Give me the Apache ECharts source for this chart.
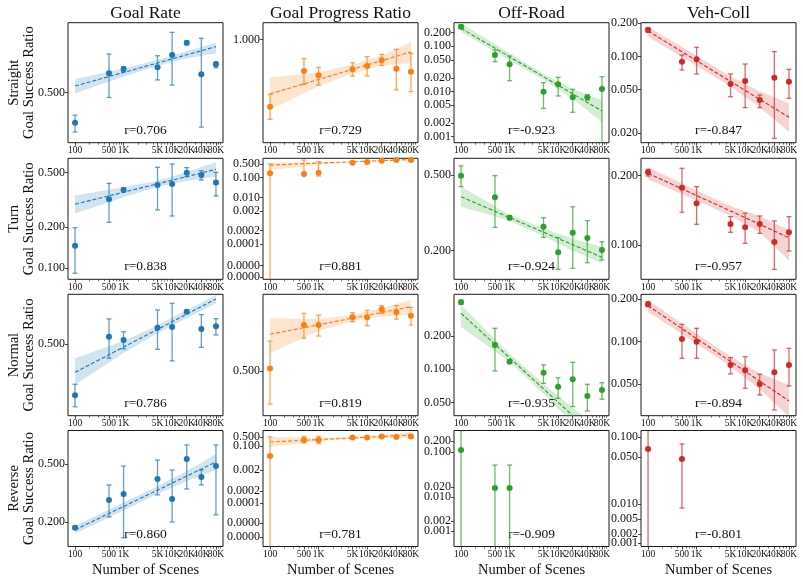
<!DOCTYPE html>
<html><head><meta charset="utf-8">
<script src="https://cdn.jsdelivr.net/npm/echarts@6/dist/echarts.min.js"></script>
<style>html,body{margin:0;padding:0;background:#fff}#c{width:803px;height:582px}</style>
</head><body><div id="c"></div>
<script>
// ---------------- DATA ----------------
const scenes = [100, 500, 1000, 5000, 10000, 20000, 40000, 80000];
const sceneLabels = ['100', '500', '1K', '5K', '10K', '20K', '40K', '80K'];
const xMinorTicks = [200,300,400,600,700,800,900,2000,3000,4000,6000,7000,8000,9000,30000,50000,60000,70000,90000,100000];
const xRange = [71.6, 111700];
const fitX = [100, 80000];
const bandX = [100, 1000, 5000, 20000, 80000];
const metrics = ['Goal Rate', 'Goal Progress Ratio', 'Off-Road', 'Veh-Coll'];
const scenarios = ['Straight', 'Turn', 'Normal', 'Reverse'];
const rValues = [[0.706, 0.729, -0.923, -0.847], [0.838, 0.881, -0.924, -0.957], [0.786, 0.819, -0.935, -0.894], [0.860, 0.781, -0.909, -0.801]];

// Straight
const straightGoalMean = [0.396, 0.579, 0.598, 0.606, 0.666, 0.732, 0.575, 0.620];
const straightGoalLow = [0.369, 0.481, 0.586, 0.550, 0.529, 0.720, 0.383, 0.604];
const straightGoalHigh = [0.420, 0.671, 0.609, 0.662, 0.792, 0.740, 0.757, 0.632];
const straightGoalFit = [0.525, 0.710];
const straightGoalBandLow = [0.496, 0.565, 0.612, 0.649, 0.674];
const straightGoalBandHigh = [0.554, 0.600, 0.641, 0.685, 0.732];
const straightGoalYRange = [0.340, 0.853];
const straightGoalTicks = [0.5];
const straightGoalTickLabels = ['0.500'];

const straightProgressMean = [0.708, 0.850, 0.832, 0.858, 0.872, 0.899, 0.860, 0.847];
const straightProgressLow = [0.664, 0.794, 0.791, 0.829, 0.829, 0.875, 0.772, 0.765];
const straightProgressHigh = [0.755, 0.906, 0.866, 0.887, 0.915, 0.926, 0.950, 0.931];
const straightProgressFit = [0.756, 0.938];
const straightProgressBandLow = [0.696, 0.786, 0.839, 0.875, 0.886];
const straightProgressBandHigh = [0.822, 0.844, 0.878, 0.921, 0.986];
const straightProgressYRange = [0.589, 1.089];
const straightProgressTicks = [1.0];
const straightProgressTickLabels = ['1.000'];

const straightOffRoadMean = [0.271, 0.0642, 0.040, 0.0099, 0.01443, 0.00745, 0.00745, 0.01136];
const straightOffRoadLow = [0.245, 0.0456, 0.0173, 0.00425, 0.00796, 0.00347, 0.00649, 0];
const straightOffRoadHigh = [0.296, 0.0828, 0.061, 0.0157, 0.0206, 0.0112, 0.00837, 0.02126];
const straightOffRoadFit = [0.250, 0.00371];
const straightOffRoadBandLow = [0.210, 0.049, 0.0182, 0.00687, 0.00211];
const straightOffRoadBandHigh = [0.323, 0.070, 0.0247, 0.01143, 0.00649];
const straightOffRoadYRange = [0.000737, 0.3328];
const straightOffRoadTicks = [0.001, 0.002, 0.005, 0.01, 0.02, 0.05, 0.1, 0.2];
const straightOffRoadTickLabels = ['0.001', '0.002', '0.005', '0.010', '0.020', '0.050', '0.100', '0.200'];

const straightVehCollMean = [0.1738, 0.0895, 0.0941, 0.0561, 0.0598, 0.0402, 0.064, 0.0589];
const straightVehCollLow = [0.1656, 0.0752, 0.0692, 0.043, 0.0342, 0.0342, 0.018, 0.0416];
const straightVehCollHigh = [0.1824, 0.103, 0.121, 0.0692, 0.0853, 0.0446, 0.1104, 0.0763];
const straightVehCollFit = [0.1702, 0.028];
const straightVehCollBandLow = [0.151, 0.0822, 0.0532, 0.0344, 0.0207];
const straightVehCollBandHigh = [0.1862, 0.1014, 0.0656, 0.048, 0.0375];
const straightVehCollYRange = [0.01642, 0.2025];
const straightVehCollTicks = [0.02, 0.05, 0.1, 0.2];
const straightVehCollTickLabels = ['0.020', '0.050', '0.100', '0.200'];

// Turn
const turnGoalMean = [0.146, 0.320, 0.373, 0.407, 0.413, 0.500, 0.481, 0.423];
const turnGoalLow = [0.092, 0.217, 0.363, 0.267, 0.241, 0.467, 0.442, 0.338];
const turnGoalHigh = [0.198, 0.418, 0.388, 0.548, 0.579, 0.544, 0.517, 0.503];
const turnGoalFit = [0.294, 0.529];
const turnGoalBandLow = [0.252, 0.331, 0.394, 0.435, 0.467];
const turnGoalBandHigh = [0.340, 0.392, 0.436, 0.505, 0.596];
const turnGoalYRange = [0.0831, 0.637];
const turnGoalTicks = [0.1, 0.2, 0.5];
const turnGoalTickLabels = ['0.100', '0.200', '0.500'];

const turnProgressMean = [0.168, 0.155, 0.180, 0.582, 0.633, 0.736, 0.80, 0.80];
const turnProgressLow = [0, 0.138, 0.122, 0.543, 0.582, 0.69, 0.736, 0.736];
const turnProgressHigh = [0.5, 0.80, 0.655, 0.633, 0.711, 0.80, 0.87, 0.87];
const turnProgressFit = [0.445, 0.847];
const turnProgressBandLow = [0.247, 0.45, 0.60, 0.70, 0.75];
const turnProgressBandHigh = [0.56, 0.62, 0.68, 0.78, 0.95];
const turnProgressYRange = [6.7e-7, 0.976];
const turnProgressTicks = [8.45e-7, 3.3e-6, 4.2e-5, 0.0002, 0.002, 0.01, 0.1, 0.5];
const turnProgressTickLabels = ['0.0000', '0.0000', '0.0001', '0.0002', '0.002', '0.010', '0.100', '0.500'];

const turnOffRoadMean = [0.496, 0.3816, 0.298, 0.267, 0.196, 0.2485, 0.2331, 0.2015];
const turnOffRoadLow = [0.434, 0.2652, 0.291, 0.235, 0.1595, 0.1614, 0.1727, 0.1785];
const turnOffRoadHigh = [0.558, 0.496, 0.305, 0.298, 0.234, 0.3404, 0.2874, 0.2228];
const turnOffRoadFit = [0.3844, 0.1844];
const turnOffRoadBandLow = [0.3404, 0.2877, 0.2381, 0.1997, 0.1715];
const turnOffRoadBandHigh = [0.434, 0.3095, 0.2624, 0.2310, 0.2097];
const turnOffRoadYRange = [0.1413, 0.612];
const turnOffRoadTicks = [0.2, 0.5];
const turnOffRoadTickLabels = ['0.200', '0.500'];

const turnVehCollMean = [0.2069, 0.1773, 0.1517, 0.1233, 0.1193, 0.1233, 0.103, 0.1135];
const turnVehCollLow = [0.1993, 0.1387, 0.1229, 0.1135, 0.1016, 0.1123, 0.0783, 0.0941];
const turnVehCollHigh = [0.2132, 0.2153, 0.1791, 0.1327, 0.1373, 0.1336, 0.1271, 0.1327];
const turnVehCollFit = [0.2048, 0.1075];
const turnVehCollBandLow = [0.1929, 0.156, 0.1336, 0.1134, 0.0854];
const turnVehCollBandHigh = [0.2175, 0.1724, 0.1477, 0.1331, 0.1161];
const turnVehCollYRange = [0.0709, 0.2379];
const turnVehCollTicks = [0.1, 0.2];
const turnVehCollTickLabels = ['0.100', '0.200'];

// Normal
const normalGoalMean = [0.313, 0.536, 0.520, 0.582, 0.586, 0.675, 0.576, 0.590];
const normalGoalLow = [0.281, 0.440, 0.479, 0.477, 0.429, 0.665, 0.486, 0.545];
const normalGoalHigh = [0.346, 0.631, 0.561, 0.686, 0.729, 0.684, 0.657, 0.633];
const normalGoalFit = [0.386, 0.759];
const normalGoalBandLow = [0.344, 0.461, 0.553, 0.636, 0.729];
const normalGoalBandHigh = [0.440, 0.515, 0.595, 0.685, 0.787];
const normalGoalYRange = [0.259, 0.792];
const normalGoalTicks = [0.5];
const normalGoalTickLabels = ['0.500'];

const normalProgressMean = [0.510, 0.712, 0.712, 0.755, 0.755, 0.803, 0.785, 0.764];
const normalProgressLow = [0.388, 0.643, 0.654, 0.730, 0.708, 0.778, 0.744, 0.712];
const normalProgressHigh = [0.629, 0.778, 0.768, 0.782, 0.797, 0.826, 0.826, 0.815];
const normalProgressFit = [0.663, 0.819];
const normalProgressBandLow = [0.573, 0.681, 0.733, 0.760, 0.768];
const normalProgressBandHigh = [0.750, 0.746, 0.768, 0.809, 0.862];
const normalProgressYRange = [0.355, 0.901];
const normalProgressTicks = [0.5];
const normalProgressTickLabels = ['0.500'];

const normalOffRoadMean = [0.403, 0.1658, 0.1172, 0.0932, 0.0697, 0.0813, 0.0574, 0.065];
const normalOffRoadLow = [0.387, 0.0966, 0.1133, 0.0747, 0.0547, 0.046, 0.042, 0.0536];
const normalOffRoadHigh = [0.423, 0.2348, 0.1214, 0.1094, 0.084, 0.1157, 0.0732, 0.0757];
const normalOffRoadFit = [0.3207, 0.02187];
const normalOffRoadBandLow = [0.2427, 0.1169, 0.060, 0.0323, 0.017];
const normalOffRoadBandHigh = [0.381, 0.138, 0.0738, 0.045, 0.0281];
const normalOffRoadYRange = [0.0381, 0.476];
const normalOffRoadTicks = [0.05, 0.1, 0.2];
const normalOffRoadTickLabels = ['0.050', '0.100', '0.200'];

const normalVehCollMean = [0.1834, 0.1041, 0.0997, 0.0682, 0.0625, 0.050, 0.0605, 0.0682];
const normalVehCollLow = [0.1764, 0.076, 0.076, 0.0589, 0.0466, 0.0418, 0.0327, 0.0484];
const normalVehCollHigh = [0.1914, 0.1323, 0.124, 0.0768, 0.078, 0.0586, 0.0871, 0.0895];
const normalVehCollFit = [0.1793, 0.0379];
const normalVehCollBandLow = [0.1626, 0.0967, 0.0665, 0.0459, 0.0292];
const normalVehCollBandHigh = [0.1967, 0.1138, 0.0783, 0.0595, 0.0492];
const normalVehCollYRange = [0.0298, 0.2159];
const normalVehCollTicks = [0.05, 0.1, 0.2];
const normalVehCollTickLabels = ['0.050', '0.100', '0.200'];

// Reverse
const reverseGoalMean = [0.183, 0.283, 0.311, 0.395, 0.288, 0.541, 0.407, 0.484];
const reverseGoalLow = [0.179, 0.217, 0.156, 0.307, 0.200, 0.337, 0.359, 0.224];
const reverseGoalHigh = [0.187, 0.359, 0.484, 0.532, 0.455, 0.675, 0.455, 0.675];
const reverseGoalFit = [0.177, 0.516];
const reverseGoalBandLow = [0.166, 0.240, 0.311, 0.382, 0.455];
const reverseGoalBandHigh = [0.188, 0.272, 0.352, 0.447, 0.585];
const reverseGoalYRange = [0.136, 0.848];
const reverseGoalTicks = [0.2, 0.5];
const reverseGoalTickLabels = ['0.200', '0.500'];

const reverseProgressMean = [0.0168, 0.292, 0.292, 0.45, 0.45, 0.55, 0.50, 0.55];
const reverseProgressLow = [0, 0.171, 0.15, 0.40, 0.40, 0.48, 0.45, 0.48];
const reverseProgressHigh = [0.5, 0.55, 0.58, 0.52, 0.52, 0.65, 0.58, 0.62];
const reverseProgressFit = [0.205, 0.714];
const reverseProgressBandLow = [0.083, 0.24, 0.356, 0.42, 0.42];
const reverseProgressBandHigh = [0.5, 0.41, 0.51, 0.72, 1.2];
const reverseProgressYRange = [1.63e-9, 1.596];
const reverseProgressTicks = [8.85e-9, 1.08e-7, 3.83e-6, 3.26e-5, 0.00138, 0.1, 0.5];
const reverseProgressTickLabels = ['0.0000', '0.0000', '0.0001', '0.0002', '0.002', '0.100', '0.500'];

const reverseOffRoadMean = [0.113, 0.0103, 0.0103, null, null, null, null, null];
const reverseOffRoadLow = [0, 0, 0, null, null, null, null, null];
const reverseOffRoadHigh = [1.0, 0.044, 0.044, null, null, null, null, null];
const reverseOffRoadYRange = [0.000258, 0.388];
const reverseOffRoadTicks = [0.000684, 0.00129, 0.00585, 0.011, 0.1, 0.2];
const reverseOffRoadTickLabels = ['0.001', '0.002', '0.010', '0.020', '0.100', '0.200'];

const reverseVehCollMean = [0.0658, 0.0464, null, null, null, null, null, null];
const reverseVehCollLow = [0, 0.0084, null, null, null, null, null, null];
const reverseVehCollHigh = [1.0, 0.0783, null, null, null, null, null, null];
const reverseVehCollYRange = [0.00219, 0.1254];
const reverseVehCollTicks = [0.00248, 0.00339, 0.00573, 0.0097, 0.05, 0.1];
const reverseVehCollTickLabels = ['0.001', '0.002', '0.005', '0.010', '0.050', '0.100'];

// ---------------- BUILD ----------------
const panels = [
  [
    [straightGoalMean, straightGoalLow, straightGoalHigh, straightGoalFit, straightGoalBandLow, straightGoalBandHigh, straightGoalYRange, straightGoalTicks, straightGoalTickLabels],
    [straightProgressMean, straightProgressLow, straightProgressHigh, straightProgressFit, straightProgressBandLow, straightProgressBandHigh, straightProgressYRange, straightProgressTicks, straightProgressTickLabels],
    [straightOffRoadMean, straightOffRoadLow, straightOffRoadHigh, straightOffRoadFit, straightOffRoadBandLow, straightOffRoadBandHigh, straightOffRoadYRange, straightOffRoadTicks, straightOffRoadTickLabels],
    [straightVehCollMean, straightVehCollLow, straightVehCollHigh, straightVehCollFit, straightVehCollBandLow, straightVehCollBandHigh, straightVehCollYRange, straightVehCollTicks, straightVehCollTickLabels]
  ],
  [
    [turnGoalMean, turnGoalLow, turnGoalHigh, turnGoalFit, turnGoalBandLow, turnGoalBandHigh, turnGoalYRange, turnGoalTicks, turnGoalTickLabels],
    [turnProgressMean, turnProgressLow, turnProgressHigh, turnProgressFit, turnProgressBandLow, turnProgressBandHigh, turnProgressYRange, turnProgressTicks, turnProgressTickLabels],
    [turnOffRoadMean, turnOffRoadLow, turnOffRoadHigh, turnOffRoadFit, turnOffRoadBandLow, turnOffRoadBandHigh, turnOffRoadYRange, turnOffRoadTicks, turnOffRoadTickLabels],
    [turnVehCollMean, turnVehCollLow, turnVehCollHigh, turnVehCollFit, turnVehCollBandLow, turnVehCollBandHigh, turnVehCollYRange, turnVehCollTicks, turnVehCollTickLabels]
  ],
  [
    [normalGoalMean, normalGoalLow, normalGoalHigh, normalGoalFit, normalGoalBandLow, normalGoalBandHigh, normalGoalYRange, normalGoalTicks, normalGoalTickLabels],
    [normalProgressMean, normalProgressLow, normalProgressHigh, normalProgressFit, normalProgressBandLow, normalProgressBandHigh, normalProgressYRange, normalProgressTicks, normalProgressTickLabels],
    [normalOffRoadMean, normalOffRoadLow, normalOffRoadHigh, normalOffRoadFit, normalOffRoadBandLow, normalOffRoadBandHigh, normalOffRoadYRange, normalOffRoadTicks, normalOffRoadTickLabels],
    [normalVehCollMean, normalVehCollLow, normalVehCollHigh, normalVehCollFit, normalVehCollBandLow, normalVehCollBandHigh, normalVehCollYRange, normalVehCollTicks, normalVehCollTickLabels]
  ],
  [
    [reverseGoalMean, reverseGoalLow, reverseGoalHigh, reverseGoalFit, reverseGoalBandLow, reverseGoalBandHigh, reverseGoalYRange, reverseGoalTicks, reverseGoalTickLabels],
    [reverseProgressMean, reverseProgressLow, reverseProgressHigh, reverseProgressFit, reverseProgressBandLow, reverseProgressBandHigh, reverseProgressYRange, reverseProgressTicks, reverseProgressTickLabels],
    [reverseOffRoadMean, reverseOffRoadLow, reverseOffRoadHigh, null, null, null, reverseOffRoadYRange, reverseOffRoadTicks, reverseOffRoadTickLabels],
    [reverseVehCollMean, reverseVehCollLow, reverseVehCollHigh, null, null, null, reverseVehCollYRange, reverseVehCollTicks, reverseVehCollTickLabels]
  ]
];

const colors = ['#1f77b4', '#ff7f0e', '#2ca02c', '#d62728'];
const bandColors = ['rgba(31,119,180,0.2)', 'rgba(255,127,14,0.2)', 'rgba(44,160,44,0.2)', 'rgba(214,39,40,0.2)'];
const FONT = '"Liberation Serif", "Times New Roman", serif';
const colLeft = [68, 263, 454, 641];
const colW = 155;
const rowTop = [22.7, 158.3, 294.3, 430.5];
const rowH = [120, 121, 121.4, 116];

const LOG = v => Math.log10(v);
const grid = [], xAxis = [], yAxis = [], series = [], graphic = [];

function labelFormatter(ticksL, labels) {
  return function (v) {
    let best = -1, bd = 1e-3;
    for (let i = 0; i < ticksL.length; i++) {
      const d = Math.abs(ticksL[i] - v);
      if (d < bd) { bd = d; best = i; }
    }
    return best >= 0 ? labels[best] : '';
  };
}
// split labels into two alternating sets so that neighbouring labels never sit on the same axis
function split(arr, parity) { return arr.filter((_, i) => i % 2 === parity); }

const xTicksL = scenes.map(LOG);
for (let r = 0; r < 4; r++) {
  for (let c = 0; c < 4; c++) {
    const g = r * 4 + c;
    const [mean, low, high, fit, bLow, bHigh, yr, ticks, tickLabels] = panels[r][c];
    const yMin = LOG(yr[0]), yMax = LOG(yr[1]);
    const left = colLeft[c], top = rowTop[r], h = rowH[r];
    grid.push({left: left, top: top, width: colW, height: h, show: true, borderColor: '#1a1a1a', borderWidth: 1, backgroundColor: 'transparent', containLabel: false});
    const xLabFmt = labelFormatter(xTicksL, sceneLabels);
    const xLabStyle = {fontSize: 9.5, fontFamily: FONT, color: '#111', margin: 3, hideOverlap: false, showMinLabel: true, showMaxLabel: true, formatter: xLabFmt};
    xAxis.push({
      gridIndex: g, type: 'value', position: 'bottom', min: LOG(xRange[0]), max: LOG(xRange[1]),
      axisLine: {show: false, onZero: false}, splitLine: {show: false},
      axisTick: {show: true, customValues: xTicksL, length: 3, lineStyle: {color: '#1a1a1a', width: 0.8}},
      axisLabel: Object.assign({show: true, customValues: split(xTicksL, 0)}, xLabStyle)
    });
    xAxis.push({
      gridIndex: g, type: 'value', position: 'bottom', min: LOG(xRange[0]), max: LOG(xRange[1]),
      axisLine: {show: false, onZero: false}, splitLine: {show: false},
      axisTick: {show: true, customValues: xMinorTicks.map(LOG), length: 2, lineStyle: {color: '#1a1a1a', width: 0.6}},
      axisLabel: Object.assign({show: true, customValues: split(xTicksL, 1)}, xLabStyle)
    });
    const yTicksL = ticks.map(LOG);
    const yFmt = labelFormatter(yTicksL, tickLabels);
    const yLabStyle = {fontSize: 12, fontFamily: FONT, color: '#111', margin: 3, hideOverlap: false, showMinLabel: true, showMaxLabel: true, formatter: yFmt};
    const yA = split(yTicksL, 0), yB = split(yTicksL, 1);
    yAxis.push({
      gridIndex: g, type: 'value', position: 'left', min: yMin, max: yMax,
      axisLine: {show: false, onZero: false}, splitLine: {show: false},
      axisTick: {show: true, customValues: yTicksL, length: 3, lineStyle: {color: '#1a1a1a', width: 0.8}},
      axisLabel: Object.assign({show: true, customValues: yA}, yLabStyle)
    });
    yAxis.push({
      gridIndex: g, type: 'value', position: 'left', min: yMin, max: yMax,
      axisLine: {show: false, onZero: false}, splitLine: {show: false},
      axisTick: {show: false},
      axisLabel: Object.assign({show: yB.length > 0, customValues: yB.length ? yB : [yMin]}, yLabStyle)
    });
    const xi = g * 2, yi = g * 2;
    const col = colors[c];
    if (bLow && bHigh) {
      series.push({
        type: 'custom', xAxisIndex: xi, yAxisIndex: yi, silent: true, z: 1,
        data: [[LOG(bandX[0]), LOG(bLow[0])]],
        renderItem: function (params, api) {
          const pts = [];
          for (let i = 0; i < bandX.length; i++) pts.push(api.coord([LOG(bandX[i]), LOG(bHigh[i])]));
          for (let i = bandX.length - 1; i >= 0; i--) pts.push(api.coord([LOG(bandX[i]), LOG(bLow[i])]));
          const cs = params.coordSys;
          return {type: 'polygon', shape: {points: pts}, style: {fill: bandColors[c], stroke: null},
            clipPath: {type: 'rect', shape: {x: cs.x, y: cs.y, width: cs.width, height: cs.height}}};
        }
      });
    }
    if (fit) {
      series.push({
        type: 'line', xAxisIndex: xi, yAxisIndex: yi, silent: true, z: 3, showSymbol: false, clip: true,
        data: [[LOG(fitX[0]), LOG(fit[0])], [LOG(fitX[1]), LOG(fit[1])]],
        lineStyle: {color: col, width: 1.1, type: [4, 2]}
      });
    }
    const ebData = [];
    const ptData = [];
    for (let i = 0; i < scenes.length; i++) {
      if (mean[i] == null) continue;
      let lo = low[i] > 0 ? LOG(low[i]) : -Infinity;
      let hi = LOG(high[i]);
      const cl = lo < yMin ? 1 : 0, ch = hi > yMax ? 1 : 0;
      lo = Math.max(lo, yMin); hi = Math.min(hi, yMax);
      ebData.push([LOG(scenes[i]), lo, hi, cl, ch]);
      ptData.push([LOG(scenes[i]), LOG(mean[i])]);
    }
    series.push({
      type: 'custom', xAxisIndex: xi, yAxisIndex: yi, silent: true, z: 4,
      data: ebData,
      renderItem: function (params, api) {
        const x = api.value(0), lo = api.value(1), hi = api.value(2), cl = api.value(3), ch = api.value(4);
        const a = api.coord([x, lo]), b = api.coord([x, hi]);
        const st = {stroke: col, lineWidth: 1.3, opacity: 0.7};
        const kids = [{type: 'line', shape: {x1: a[0], y1: a[1], x2: b[0], y2: b[1]}, style: st}];
        if (!cl) kids.push({type: 'line', shape: {x1: a[0] - 2.5, y1: a[1], x2: a[0] + 2.5, y2: a[1]}, style: st});
        if (!ch) kids.push({type: 'line', shape: {x1: b[0] - 2.5, y1: b[1], x2: b[0] + 2.5, y2: b[1]}, style: st});
        return {type: 'group', children: kids};
      }
    });
    series.push({
      type: 'scatter', xAxisIndex: xi, yAxisIndex: yi, silent: true, z: 5,
      data: ptData, symbol: 'circle', symbolSize: 6, itemStyle: {color: col, opacity: 1}
    });
    const rv = rValues[r][c];
    graphic.push({type: 'text', x: left + colW / 2, y: top + h - 12.5, silent: true,
      style: {text: 'r=' + rv.toFixed(3), fontSize: 13.5, fontFamily: FONT, fill: '#111', align: 'center', verticalAlign: 'middle', textAlign: 'center', textVerticalAlign: 'middle'}});
  }
}

for (let c = 0; c < 4; c++) {
  graphic.push({type: 'text', x: colLeft[c] + colW / 2, y: 13, silent: true,
    style: {text: metrics[c], fontSize: 17.5, fontFamily: FONT, fill: '#111', align: 'center', verticalAlign: 'middle', textAlign: 'center', textVerticalAlign: 'middle'}});
  graphic.push({type: 'text', x: colLeft[c] + colW / 2, y: 570, silent: true,
    style: {text: 'Number of Scenes', fontSize: 14.5, fontFamily: FONT, fill: '#111', align: 'center', verticalAlign: 'middle', textAlign: 'center', textVerticalAlign: 'middle'}});
}
for (let r = 0; r < 4; r++) {
  const cy = rowTop[r] + rowH[r] / 2;
  graphic.push({type: 'text', x: 14, y: cy, rotation: Math.PI / 2, silent: true,
    style: {text: scenarios[r], fontSize: 14.5, fontFamily: FONT, fill: '#111', align: 'center', verticalAlign: 'middle', textAlign: 'center', textVerticalAlign: 'middle'}});
  graphic.push({type: 'text', x: 29.5, y: cy, rotation: Math.PI / 2, silent: true,
    style: {text: 'Goal Success Ratio', fontSize: 14.5, fontFamily: FONT, fill: '#111', align: 'center', verticalAlign: 'middle', textAlign: 'center', textVerticalAlign: 'middle'}});
}

const chart = echarts.init(document.getElementById('c'), null, {renderer: 'canvas'});
chart.setOption({animation: false, backgroundColor: '#fff', grid, xAxis, yAxis, series, graphic});
</script>
</body></html>
